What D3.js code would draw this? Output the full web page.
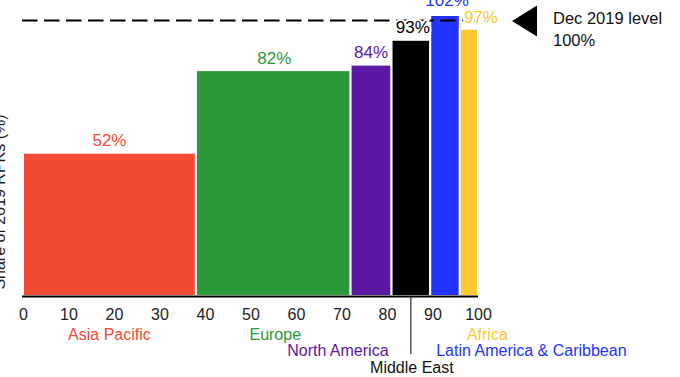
<!DOCTYPE html>
<html>
<head>
<meta charset="utf-8">
<script src="https://cdn.jsdelivr.net/npm/d3@7"></script>
<style>
  html, body { margin: 0; padding: 0; background: #fff; }
  svg { display: block; font-family: "Liberation Sans", Arial, sans-serif; }
</style>
</head>
<body>
<svg id="chart" width="680" height="377"></svg>
<script>
// Regions, their share of traffic (bar width) and recovery vs. Dec 2019 (bar height)
const regions = ["Asia Pacific", "Europe", "North America", "Middle East", "Latin America & Caribbean", "Africa"];
const shares = [38, 34, 9, 8.5, 6.5, 4];
const levels = [52, 82, 84, 93, 102, 97];
const colors = ["#f24a33", "#2a9a3a", "#5c18a3", "#000000", "#2233ff", "#fdc832"];
const xTicks = [0, 10, 20, 30, 40, 50, 60, 70, 80, 90, 100];
const referenceLevel = 100;

// Placement of the region names under the axis: row, anchor and a small nudge
const nameLayout = [
  { row: 0, anchor: "middle", from: "center", dx: 0 },
  { row: 0, anchor: "middle", from: "center", dx: 2 },
  { row: 1, anchor: "end", from: "right", dx: -3 },
  { row: 2, anchor: "middle", from: "center", dx: 1, leader: true },
  { row: 1, anchor: "start", from: "left", dx: 6 },
  { row: 0, anchor: "start", from: "center", dx: -2 }
];
const rowBaselines = [340, 356, 373];

// Nudges for the value labels so the narrow bars' labels don't collide
const valueNudge = [
  { dx: 0, dy: 0 }, { dx: 1, dy: 0 }, { dx: 0, dy: 0 },
  { dx: 2, dy: 0 }, { dx: 2, dy: -3 }, { dx: 12, dy: 1 }
];

const svg = d3.select("#chart");
const x = d3.scaleLinear().domain([0, 100]).range([23, 478]);
const y = d3.scaleLinear().domain([0, 100]).range([296, 20.5]);

// cumulative starts of each bar
let acc = 0;
const bars = regions.map((name, i) => {
  const d = { name, share: shares[i], level: levels[i], color: colors[i], x0: acc, x1: acc + shares[i],
              layout: nameLayout[i], nudge: valueNudge[i] };
  acc += shares[i];
  return d;
});

// y-axis title (sits against the left edge)
svg.append("text")
  .attr("transform", `translate(5,${202}) rotate(-90)`)
  .attr("text-anchor", "middle")
  .attr("font-size", 16)
  .attr("fill", "#222")
  .text("Share of 2019 RPKs (%)");

// bars
svg.append("g").selectAll("rect")
  .data(bars)
  .join("rect")
  .attr("x", d => x(d.x0))
  .attr("y", d => y(d.level))
  .attr("width", d => x(d.x1) - x(d.x0))
  .attr("height", d => y(0) - y(d.level))
  .attr("fill", d => d.color)
  .attr("stroke", "#fff")
  .attr("stroke-width", 2);

// reference line at the Dec 2019 level
svg.append("line")
  .attr("x1", 22).attr("x2", 490)
  .attr("y1", y(referenceLevel)).attr("y2", y(referenceLevel))
  .attr("stroke", "#000")
  .attr("stroke-width", 2)
  .attr("stroke-dasharray", "15.5,6.5");

// value labels above each bar
svg.append("g").selectAll("text")
  .data(bars)
  .join("text")
  .attr("x", d => (x(d.x0) + x(d.x1)) / 2 + d.nudge.dx)
  .attr("y", d => y(d.level) - 6.5 + d.nudge.dy)
  .attr("text-anchor", "middle")
  .attr("font-size", 17)
  .attr("fill", d => d.color)
  .attr("stroke", "#fff")
  .attr("stroke-width", 4)
  .attr("paint-order", "stroke")
  .text(d => d.level + "%");

// x axis
const axis = svg.append("g")
  .attr("transform", "translate(0,296.5)")
  .call(d3.axisBottom(x).tickValues(xTicks).tickSize(0).tickSizeOuter(0).tickPadding(12));
axis.select(".domain").attr("stroke", "#000").attr("stroke-width", 2).attr("d", `M${x(0) - 1},0H${x(100)}`);
axis.selectAll(".tick text")
  .attr("font-size", 16)
  .attr("font-family", "Liberation Sans, Arial, sans-serif")
  .attr("fill", "#222");

// region names under the axis
const names = svg.append("g");
bars.forEach(d => {
  const L = d.layout;
  const base = L.from === "center" ? (x(d.x0) + x(d.x1)) / 2 : L.from === "left" ? x(d.x0) : x(d.x1);
  if (L.leader) {
    names.append("line")
      .attr("x1", (x(d.x0) + x(d.x1)) / 2).attr("x2", (x(d.x0) + x(d.x1)) / 2)
      .attr("y1", 297).attr("y2", 354)
      .attr("stroke", "#000").attr("stroke-width", 1);
  }
  names.append("text")
    .attr("x", base + L.dx)
    .attr("y", rowBaselines[L.row])
    .attr("text-anchor", L.anchor)
    .attr("font-size", 16)
    .attr("fill", d.color === "#000000" ? "#111" : d.color)
    .text(d.name);
});

// marker and caption for the reference level
const tri = svg.append("g");
tri.append("path")
  .attr("d", d3.line()([[512, y(referenceLevel) + 0.5], [537, y(referenceLevel) - 15], [537, y(referenceLevel) + 16]]) + "Z")
  .attr("fill", "#000");
tri.append("text")
  .attr("x", 553).attr("y", 24)
  .attr("font-size", 16.5)
  .attr("fill", "#111")
  .text("Dec 2019 level");
tri.append("text")
  .attr("x", 553).attr("y", 45.5)
  .attr("font-size", 16.5)
  .attr("fill", "#111")
  .text(referenceLevel + "%");
</script>
</body>
</html>
